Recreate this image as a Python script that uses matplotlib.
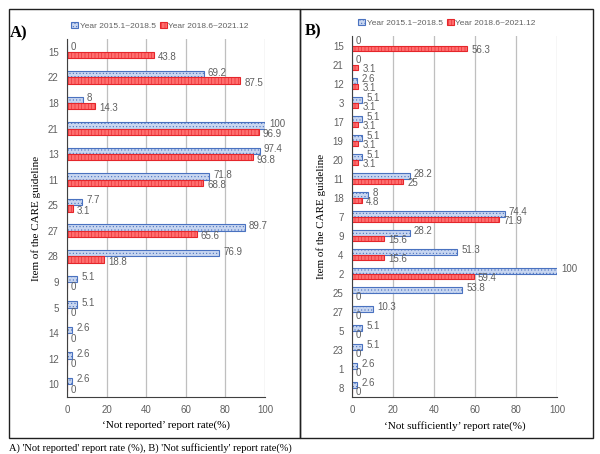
import numpy as np
import matplotlib.pyplot as plt
from matplotlib.patches import Rectangle

# panel A: 'Not reported'
items_a = ['15', '22', '18', '21', '13', '11', '25', '27', '28', '9', '5', '14', '12', '10']
early_a = [0, 69.2, 8, 100, 97.4, 71.8, 7.7, 89.7, 76.9, 5.1, 5.1, 2.6, 2.6, 2.6]
late_a = [43.8, 87.5, 14.3, 96.9, 93.8, 68.8, 3.1, 65.6, 18.8, 0, 0, 0, 0, 0]

# panel B: 'Not sufficiently'
items_b = ['15', '21', '12', '3', '17', '19', '20', '11', '18', '7', '9', '4', '2', '25',
           '27', '5', '23', '1', '8']
early_b = [0, 0, 2.6, 5.1, 5.1, 5.1, 5.1, 28.2, 8, 74.4, 28.2, 51.3, 100, 53.8,
           10.3, 5.1, 5.1, 2.6, 2.6]
late_b = [56.3, 3.1, 3.1, 3.1, 3.1, 3.1, 3.1, 25, 4.8, 71.9, 15.6, 15.6, 59.4, 0,
          0, 0, 0, 0, 0]

label_early = 'Year 2015.1~2018.5'
label_late = 'Year 2018.6~2021.12'

plt.rcParams['hatch.linewidth'] = 0.4
serif = ['Liberation Serif', 'DejaVu Serif']
sans = ['Liberation Sans', 'DejaVu Sans']
gray = '#606060'

W, H = 600, 454
fig = plt.figure(figsize=(6, 4.54), dpi=100)


def px(x0, y0, x1, y1):
    return [x0 / W, 1 - y1 / H, (x1 - x0) / W, (y1 - y0) / H]


def panel(ax, items, early, late, bh, fs, xlabel):
    y = np.arange(len(items))
    b1 = ax.barh(y - bh / 2, early, height=bh, color='#c8d6f0', edgecolor='#4a72c0',
                 linewidth=0.8, hatch='.....', label=label_early)
    b2 = ax.barh(y + bh / 2, late, height=bh, color='#ff6e6e', edgecolor='#e5262b',
                 linewidth=0.8, hatch='|||||', label=label_late)
    for i in range(len(items)):
        ax.text(early[i] + 2, y[i] - bh * 0.75, f'{early[i]:g}', fontsize=fs,
                color=gray, va='center', ha='left', family=sans)
        ax.text(late[i] + 2, y[i] + bh * 0.85, f'{late[i]:g}', fontsize=fs,
                color=gray, va='center', ha='left', family=sans)
    ax.set_xlim(0, 100)
    ax.set_ylim(len(items) - 0.5, -0.5)
    ax.set_yticks(y)
    ax.set_yticklabels(items)
    ax.set_xticks([0, 20, 40, 60, 80, 100])
    ax.tick_params(length=0, labelsize=7, labelcolor=gray, pad=6)
    for lab in ax.get_xticklabels() + ax.get_yticklabels():
        lab.set_family(sans)
    ax.grid(axis='x', color='#bfbfbf', linewidth=0.9)
    ax.set_axisbelow(True)
    for s in ['top', 'right']:
        ax.spines[s].set_visible(False)
    ax.spines['left'].set_color('#404040')
    ax.spines['bottom'].set_color('#404040')
    ax.set_ylabel('Item of the CARE guideline', family=serif, fontsize=8, labelpad=5)
    ax.set_xlabel(xlabel, family=serif, fontsize=8, labelpad=4)
    return b1, b2


ax1 = fig.add_axes(px(67, 39, 265, 397))
h1 = panel(ax1, items_a, early_a, late_a, 0.25, 7, '‘Not reported’ report rate(%)')
ax2 = fig.add_axes(px(352, 36, 557, 397))
h2 = panel(ax2, items_b, early_b, late_b, 0.29, 7, '‘Not sufficiently’ report rate(%)')

for h, cx, cy in [(h1, 160, 26), (h2, 447, 23)]:
    fig.legend(h, [label_early, label_late], loc='center', bbox_to_anchor=(cx / W, 1 - cy / H),
               ncol=2, frameon=False, handlelength=0.8, handleheight=0.8,
               handletextpad=0.2, columnspacing=0.5, labelcolor=gray, prop={'family': sans, 'size': 6})

fig.text(10 / W, 1 - 33 / H, 'A)', family=serif, fontsize=12, fontweight='bold', va='center')
fig.text(305 / W, 1 - 31 / H, 'B)', family=serif, fontsize=12, fontweight='bold', va='center')

fig.patches.append(Rectangle((9 / W, 1 - 438 / H), 291 / W, 429 / H, transform=fig.transFigure,
                             fill=False, edgecolor='#202020', linewidth=1.0))
fig.patches.append(Rectangle((300 / W, 1 - 438 / H), 293 / W, 429 / H, transform=fig.transFigure,
                             fill=False, edgecolor='#202020', linewidth=1.0))

fig.text(9 / W, 1 - 448 / H, "A) 'Not reported' report rate (%), B) 'Not sufficiently' report rate(%)",
         family=serif, fontsize=7.5, va='center')

fig.savefig('out.png', dpi=100)
